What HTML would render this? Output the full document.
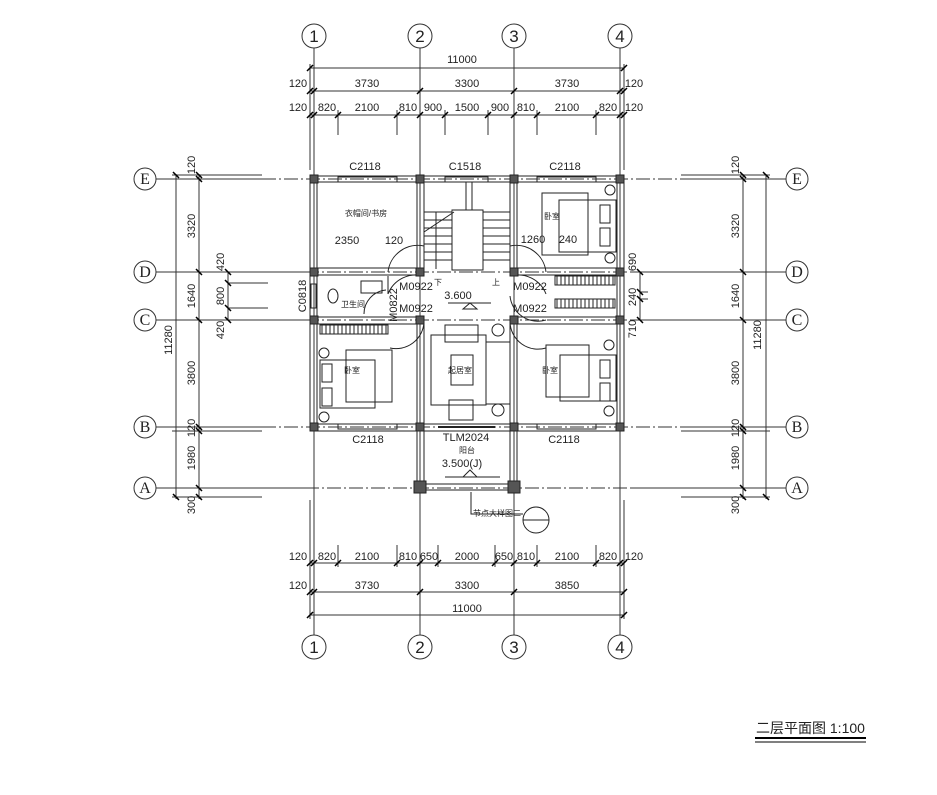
<!DOCTYPE html>
<html><head><meta charset="utf-8"><style>
html,body{margin:0;padding:0;background:#fff;}
svg{display:block;}
text{font-family:"Liberation Sans","Noto Sans CJK SC",sans-serif;fill:#222;}
.d{font-size:11px;text-anchor:middle;}
.s{font-size:8px;text-anchor:middle;}
.ax{font-family:"Liberation Sans",sans-serif;font-size:17px;text-anchor:middle;}
.ay{font-family:"Liberation Serif",serif;font-size:16px;text-anchor:middle;}
</style></head><body>
<svg width="937" height="795" viewBox="0 0 937 795" xmlns="http://www.w3.org/2000/svg">
<g stroke="#333" stroke-width="1" fill="none">
<line x1="314" y1="48" x2="314" y2="635"/><line x1="420" y1="48" x2="420" y2="635"/>
<line x1="514" y1="48" x2="514" y2="635"/><line x1="620" y1="48" x2="620" y2="635"/>
<g>
<line x1="156" y1="179" x2="262" y2="179"/><line x1="156" y1="272" x2="305" y2="272"/>
<line x1="156" y1="320" x2="305" y2="320"/><line x1="156" y1="427" x2="262" y2="427"/>
<line x1="156" y1="488" x2="305" y2="488"/>
<line x1="681" y1="179" x2="786" y2="179"/><line x1="630" y1="272" x2="786" y2="272"/>
<line x1="630" y1="320" x2="786" y2="320"/><line x1="681" y1="427" x2="786" y2="427"/>
<line x1="630" y1="488" x2="786" y2="488"/></g>
<g stroke-dasharray="14,3,2,3">
<line x1="262" y1="179" x2="681" y2="179"/><line x1="305" y1="272" x2="630" y2="272"/>
<line x1="305" y1="320" x2="630" y2="320"/><line x1="262" y1="427" x2="681" y2="427"/>
<line x1="305" y1="488" x2="630" y2="488"/></g>
<circle cx="314" cy="36" r="12"/><circle cx="420" cy="36" r="12"/><circle cx="514" cy="36" r="12"/><circle cx="620" cy="36" r="12"/>
<circle cx="314" cy="647" r="12"/><circle cx="420" cy="647" r="12"/><circle cx="514" cy="647" r="12"/><circle cx="620" cy="647" r="12"/>
<circle cx="145" cy="179" r="11" fill="#fff"/><circle cx="145" cy="272" r="11" fill="#fff"/><circle cx="145" cy="320" r="11" fill="#fff"/><circle cx="145" cy="427" r="11" fill="#fff"/><circle cx="145" cy="488" r="11" fill="#fff"/>
<circle cx="797" cy="179" r="11" fill="#fff"/><circle cx="797" cy="272" r="11" fill="#fff"/><circle cx="797" cy="320" r="11" fill="#fff"/><circle cx="797" cy="427" r="11" fill="#fff"/><circle cx="797" cy="488" r="11" fill="#fff"/>
<line x1="310" y1="68" x2="624" y2="68"/><line x1="310" y1="91" x2="624" y2="91"/><line x1="310" y1="115" x2="624" y2="115"/>
<line x1="310" y1="64" x2="310" y2="170"/><line x1="624" y1="64" x2="624" y2="170"/>
<g><line x1="338" y1="110" x2="338" y2="135"/><line x1="397" y1="110" x2="397" y2="135"/><line x1="445" y1="110" x2="445" y2="135"/><line x1="488" y1="110" x2="488" y2="135"/><line x1="537" y1="110" x2="537" y2="135"/><line x1="596" y1="110" x2="596" y2="135"/></g>
<line x1="310" y1="563" x2="624" y2="563"/><line x1="310" y1="592" x2="624" y2="592"/><line x1="310" y1="615" x2="624" y2="615"/>
<line x1="310" y1="500" x2="310" y2="619"/><line x1="624" y1="500" x2="624" y2="619"/>
<g><line x1="338" y1="545" x2="338" y2="567"/><line x1="397" y1="545" x2="397" y2="567"/><line x1="438" y1="545" x2="438" y2="567"/><line x1="495" y1="545" x2="495" y2="567"/><line x1="537" y1="545" x2="537" y2="567"/><line x1="596" y1="545" x2="596" y2="567"/></g>
<line x1="176" y1="174" x2="176" y2="499"/><line x1="199" y1="174" x2="199" y2="499"/>
<line x1="172" y1="175" x2="262" y2="175"/><line x1="172" y1="431" x2="262" y2="431"/><line x1="172" y1="497" x2="262" y2="497"/>
<line x1="228" y1="272" x2="228" y2="320"/><line x1="228" y1="283" x2="268" y2="283"/><line x1="228" y1="308" x2="268" y2="308"/>
<line x1="743" y1="174" x2="743" y2="499"/><line x1="766" y1="174" x2="766" y2="499"/>
<line x1="681" y1="175" x2="770" y2="175"/><line x1="681" y1="431" x2="770" y2="431"/><line x1="681" y1="497" x2="770" y2="497"/>
<line x1="640" y1="272" x2="640" y2="320"/><line x1="640" y1="292" x2="648" y2="292"/><line x1="640" y1="299" x2="648" y2="299"/>
</g>
<g stroke="#000" stroke-width="1.5">
<path d="M307 71l6-6M307 94l6-6M307 118l6-6M311 94l6-6M311 118l6-6M417 94l6-6M511 94l6-6M617 94l6-6M621 94l6-6M621 71l6-6M335 118l6-6M394 118l6-6M417 118l6-6M442 118l6-6M485 118l6-6M511 118l6-6M534 118l6-6M593 118l6-6M617 118l6-6M621 118l6-6"/>
<path d="M307 566l6-6M311 566l6-6M335 566l6-6M394 566l6-6M417 566l6-6M435 566l6-6M492 566l6-6M511 566l6-6M534 566l6-6M593 566l6-6M617 566l6-6M621 566l6-6M307 595l6-6M311 595l6-6M417 595l6-6M511 595l6-6M621 595l6-6M307 618l6-6M621 618l6-6"/>
<path d="M173 172l6 6M196 172l6 6M196 176l6 6M196 269l6 6M196 317l6 6M196 424l6 6M196 428l6 6M196 485l6 6M196 494l6 6M173 494l6 6M225 269l6 6M225 280l6 6M225 305l6 6M225 317l6 6"/>
<path d="M740 172l6 6M763 172l6 6M740 176l6 6M740 269l6 6M740 317l6 6M740 424l6 6M740 428l6 6M740 485l6 6M740 494l6 6M763 494l6 6M637 269l6 6M637 289l6 6M637 296l6 6M637 317l6 6"/>
</g>
<g stroke="#222" stroke-width="1" fill="none">
<rect x="310" y="176" width="314" height="255"/>
<rect x="317" y="182" width="300" height="242"/>
<line x1="317" y1="268" x2="420" y2="268"/><line x1="317" y1="275" x2="420" y2="275"/>
<line x1="317" y1="317" x2="420" y2="317"/><line x1="317" y1="324" x2="420" y2="324"/>
<line x1="514" y1="268" x2="617" y2="268"/><line x1="514" y1="275" x2="617" y2="275"/>
<line x1="514" y1="317" x2="617" y2="317"/><line x1="514" y1="324" x2="617" y2="324"/>
<line x1="417" y1="182" x2="417" y2="268"/><line x1="424" y1="182" x2="424" y2="268"/>
<line x1="510" y1="182" x2="510" y2="268"/><line x1="517" y1="182" x2="517" y2="268"/>
<line x1="417" y1="324" x2="417" y2="485"/><line x1="424" y1="324" x2="424" y2="485"/>
<line x1="510" y1="324" x2="510" y2="485"/><line x1="517" y1="324" x2="517" y2="485"/>
<line x1="424" y1="484" x2="510" y2="484"/><line x1="424" y1="490" x2="510" y2="490"/>
<rect x="338" y="177" width="59" height="5"/><rect x="445" y="177" width="43" height="5"/><rect x="537" y="177" width="59" height="5"/>
<rect x="338" y="424" width="59" height="5"/><rect x="537" y="424" width="59" height="5"/>
<line x1="438" y1="427" x2="495" y2="427" stroke-width="2"/>
<rect x="311" y="284" width="5" height="24"/>
<path d="M424 276a30 30 0 0 0-36 18"/><path d="M388 276v18"/>
<path d="M510 276a30 30 0 0 1 36 18"/>
<path d="M424 246a30 30 0 0 0-36 26"/><path d="M510 246a30 30 0 0 1 36 26"/>
<path d="M424 322a28 28 0 0 1-34 26"/><path d="M510 322a28 28 0 0 0 36 26"/>
<path d="M510 296a28 28 0 0 0 36 24"/>
<path d="M386 290a24 24 0 0 0-22 24"/>
<rect x="452" y="210" width="31" height="60"/>
<line x1="436" y1="212" x2="436" y2="269"/><line x1="466" y1="182" x2="466" y2="210"/><line x1="472" y1="182" x2="472" y2="210"/>
<path d="M424 212h28M424 220h28M424 228h28M424 236h28M424 244h28M424 252h28M424 260h28M483 212h27M483 220h27M483 228h27M483 236h27M483 244h27M483 252h27M483 260h27"/>
<path d="M424 232l30-20"/>
<rect x="320" y="325" width="68" height="9"/><rect x="555" y="276" width="60" height="9"/><rect x="555" y="299" width="60" height="9"/>
<path d="M322 325v9M326 325v9M330 325v9M334 325v9M338 325v9M342 325v9M346 325v9M350 325v9M354 325v9M358 325v9M362 325v9M366 325v9M370 325v9M374 325v9M378 325v9M382 325v9M386 325v9"/>
<path d="M557 276v9M561 276v9M565 276v9M569 276v9M573 276v9M577 276v9M581 276v9M585 276v9M589 276v9M593 276v9M597 276v9M601 276v9M605 276v9M609 276v9M613 276v9M557 299v9M561 299v9M565 299v9M569 299v9M573 299v9M577 299v9M581 299v9M585 299v9M589 299v9M593 299v9M597 299v9M601 299v9M605 299v9M609 299v9M613 299v9"/>
<rect x="542" y="193" width="46" height="62"/><rect x="559" y="200" width="57" height="52"/><rect x="600" y="205" width="10" height="18"/><rect x="600" y="228" width="10" height="18"/>
<rect x="546" y="345" width="43" height="52"/><rect x="560" y="355" width="56" height="46"/><rect x="600" y="360" width="10" height="18"/><rect x="600" y="383" width="10" height="18"/>
<rect x="346" y="350" width="46" height="52"/><rect x="320" y="360" width="55" height="48"/><rect x="322" y="364" width="10" height="18"/><rect x="322" y="388" width="10" height="18"/>
<circle cx="610" cy="190" r="5"/><circle cx="610" cy="258" r="5"/><circle cx="609" cy="345" r="5"/><circle cx="609" cy="411" r="5"/><circle cx="324" cy="353" r="5"/><circle cx="324" cy="417" r="5"/>
<rect x="431" y="335" width="55" height="70"/><rect x="445" y="325" width="33" height="17"/><rect x="451" y="355" width="22" height="30"/><rect x="486" y="342" width="24" height="62"/><rect x="449" y="400" width="24" height="20"/>
<circle cx="498" cy="330" r="6"/><circle cx="498" cy="410" r="6"/>
<ellipse cx="333" cy="296" rx="5" ry="7"/><rect x="361" y="281" width="21" height="12"/>
<path d="M448 303h43M470 303l-7 6h14z"/>
<path d="M445 477h55M470 470l-7 7h14z"/>
<path d="M471 492v22h52"/><circle cx="536" cy="520" r="13"/><line x1="523" y1="520" x2="549" y2="520"/>
</g>
<g fill="#555" stroke="#222">
<rect x="310" y="175" width="8" height="8"/><rect x="416" y="175" width="8" height="8"/><rect x="510" y="175" width="8" height="8"/><rect x="616" y="175" width="8" height="8"/>
<rect x="310" y="268" width="8" height="8"/><rect x="416" y="268" width="8" height="8"/><rect x="510" y="268" width="8" height="8"/><rect x="616" y="268" width="8" height="8"/>
<rect x="310" y="316" width="8" height="8"/><rect x="416" y="316" width="8" height="8"/><rect x="510" y="316" width="8" height="8"/><rect x="616" y="316" width="8" height="8"/>
<rect x="310" y="423" width="8" height="8"/><rect x="416" y="423" width="8" height="8"/><rect x="510" y="423" width="8" height="8"/><rect x="616" y="423" width="8" height="8"/>
<rect x="414" y="481" width="12" height="12"/><rect x="508" y="481" width="12" height="12"/>
</g>
<text class="ax" x="314" y="42">1</text><text class="ax" x="420" y="42">2</text><text class="ax" x="514" y="42">3</text><text class="ax" x="620" y="42">4</text>
<text class="ax" x="314" y="653">1</text><text class="ax" x="420" y="653">2</text><text class="ax" x="514" y="653">3</text><text class="ax" x="620" y="653">4</text>
<text class="ay" x="145" y="184">E</text><text class="ay" x="145" y="277">D</text><text class="ay" x="145" y="325">C</text><text class="ay" x="145" y="432">B</text><text class="ay" x="145" y="493">A</text>
<text class="ay" x="797" y="184">E</text><text class="ay" x="797" y="277">D</text><text class="ay" x="797" y="325">C</text><text class="ay" x="797" y="432">B</text><text class="ay" x="797" y="493">A</text>
<text class="d" x="462" y="63">11000</text>
<text class="d" x="298" y="87">120</text><text class="d" x="367" y="87">3730</text><text class="d" x="467" y="87">3300</text><text class="d" x="567" y="87">3730</text><text class="d" x="634" y="87">120</text>
<text class="d" x="298" y="111">120</text><text class="d" x="327" y="111">820</text><text class="d" x="367" y="111">2100</text><text class="d" x="408" y="111">810</text><text class="d" x="433" y="111">900</text><text class="d" x="467" y="111">1500</text><text class="d" x="500" y="111">900</text><text class="d" x="526" y="111">810</text><text class="d" x="567" y="111">2100</text><text class="d" x="608" y="111">820</text><text class="d" x="634" y="111">120</text>
<text class="d" x="365" y="170">C2118</text><text class="d" x="465" y="170">C1518</text><text class="d" x="565" y="170">C2118</text>
<text class="d" x="298" y="560">120</text><text class="d" x="327" y="560">820</text><text class="d" x="367" y="560">2100</text><text class="d" x="408" y="560">810</text><text class="d" x="429" y="560">650</text><text class="d" x="467" y="560">2000</text><text class="d" x="504" y="560">650</text><text class="d" x="526" y="560">810</text><text class="d" x="567" y="560">2100</text><text class="d" x="608" y="560">820</text><text class="d" x="634" y="560">120</text>
<text class="d" x="298" y="589">120</text><text class="d" x="367" y="589">3730</text><text class="d" x="467" y="589">3300</text><text class="d" x="567" y="589">3850</text>
<text class="d" x="467" y="612">11000</text>
<text class="d" transform="translate(195,165) rotate(-90)">120</text><text class="d" transform="translate(195,226) rotate(-90)">3320</text><text class="d" transform="translate(195,296) rotate(-90)">1640</text><text class="d" transform="translate(195,373) rotate(-90)">3800</text><text class="d" transform="translate(195,428) rotate(-90)">120</text><text class="d" transform="translate(195,458) rotate(-90)">1980</text><text class="d" transform="translate(195,505) rotate(-90)">300</text>
<text class="d" transform="translate(172,340) rotate(-90)">11280</text>
<text class="d" transform="translate(224,262) rotate(-90)">420</text><text class="d" transform="translate(224,296) rotate(-90)">800</text><text class="d" transform="translate(224,330) rotate(-90)">420</text>
<text class="d" transform="translate(306,296) rotate(-90)">C0818</text>
<text class="d" transform="translate(739,165) rotate(-90)">120</text><text class="d" transform="translate(739,226) rotate(-90)">3320</text><text class="d" transform="translate(739,296) rotate(-90)">1640</text><text class="d" transform="translate(739,373) rotate(-90)">3800</text><text class="d" transform="translate(739,428) rotate(-90)">120</text><text class="d" transform="translate(739,458) rotate(-90)">1980</text><text class="d" transform="translate(739,505) rotate(-90)">300</text>
<text class="d" transform="translate(761,335) rotate(-90)">11280</text>
<text class="d" transform="translate(636,262) rotate(-90)">690</text><text class="d" transform="translate(636,297) rotate(-90)">240</text><text class="d" transform="translate(636,329) rotate(-90)">710</text>
<text class="d" transform="translate(397,305) rotate(-90)">M0822</text>
<text class="s" x="366" y="216">衣帽间/书房</text>
<text class="d" x="347" y="244">2350</text><text class="d" x="394" y="244">120</text>
<text class="d" x="533" y="243">1260</text><text class="d" x="568" y="243">240</text>
<text class="s" x="552" y="219">卧室</text>
<text class="s" x="353" y="307">卫生间</text>
<text class="d" x="416" y="290">M0922</text><text class="d" x="416" y="312">M0922</text>
<text class="d" x="530" y="290">M0922</text><text class="d" x="530" y="312">M0922</text>
<text class="s" x="438" y="285">下</text><text class="s" x="496" y="285">上</text>
<text class="d" x="458" y="299">3.600</text>
<text class="s" x="352" y="373">卧室</text><text class="s" x="460" y="373">起居室</text><text class="s" x="550" y="373">卧室</text>
<text class="d" x="368" y="443">C2118</text><text class="d" x="564" y="443">C2118</text>
<text class="d" x="466" y="441">TLM2024</text><text class="s" x="467" y="453">阳台</text>
<text class="d" x="462" y="467">3.500(J)</text>
<text class="s" x="497" y="516">节点大样图二</text>
<text style="font-size:14px" x="756" y="733">二层平面图 1:100</text>
<line x1="755" y1="738" x2="866" y2="738" stroke="#000" stroke-width="2"/>
<line x1="755" y1="742" x2="866" y2="742" stroke="#000" stroke-width="1"/>
</svg>
</body></html>
